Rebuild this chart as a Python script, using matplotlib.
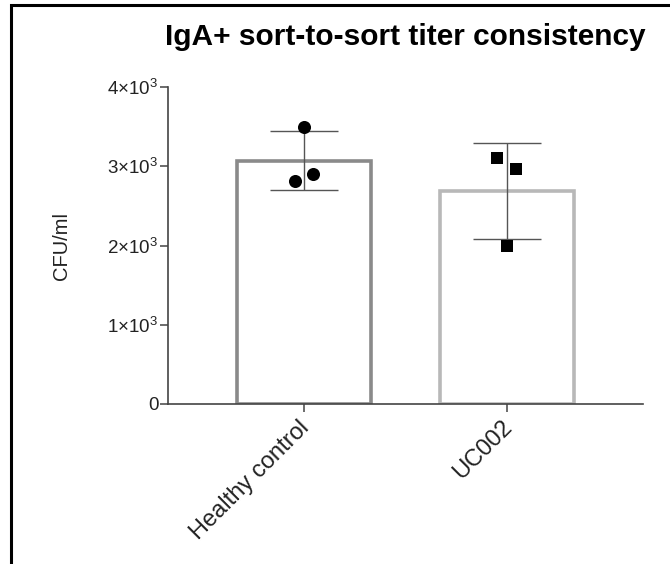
import numpy as np
import matplotlib
matplotlib.use("Agg")
import matplotlib.pyplot as plt
import matplotlib.transforms as mtransforms
from matplotlib.patches import Rectangle
from matplotlib.ticker import FixedLocator, FuncFormatter

plt.rcParams['font.family'] = ['Liberation Sans', 'DejaVu Sans']
plt.rcParams['mathtext.fontset'] = 'custom'
plt.rcParams['mathtext.rm'] = 'Liberation Sans'
plt.rcParams['mathtext.it'] = 'Liberation Sans:italic'
plt.rcParams['mathtext.bf'] = 'Liberation Sans:bold'

# ---------------- data ----------------
groups = ["Healthy control", "UC002"]
means = [3070, 2690]
sds = [375, 603]
hc_points = [3500, 2810, 2900]
hc_jitter = [0.0, -0.045, 0.045]
uc_points = [3110, 2960, 2000]
uc_jitter = [-0.049, 0.044, 0.0]
yticks = [0, 1000, 2000, 3000, 4000]
ytick_labels = ["0", r"$\mathrm{1{\times}10^{3}}$", r"$\mathrm{2{\times}10^{3}}$",
                r"$\mathrm{3{\times}10^{3}}$", r"$\mathrm{4{\times}10^{3}}$"]

edge_cols = ["#8a8a8a", "#b8b8b8"]

# ---------------- figure ----------------
fig = plt.figure(figsize=(6.7, 5.64), dpi=100)
ax = fig.add_axes([168 / 670, 1 - 404 / 564, (643 - 168) / 670, (404 - 87) / 564])

x = np.arange(len(groups))
ax.bar(x, means, width=0.665, facecolor="white", edgecolor=edge_cols,
       linewidth=2.6, zorder=1)
ax.errorbar(x, means, yerr=sds, fmt="none", ecolor="#555555",
            elinewidth=1.0, capsize=24.5, capthick=1.0, zorder=2)

ax.scatter(x[0] + np.array(hc_jitter), hc_points, marker="o", s=9.4 ** 2,
           color="black", zorder=3, linewidths=0)
ax.scatter(x[1] + np.array(uc_jitter), uc_points, marker="s", s=8.6 ** 2,
           color="black", zorder=3, linewidths=0)

ax.set_xlim(-0.67, 1.67)
ax.set_ylim(0, 4000)

ax.yaxis.set_major_locator(FixedLocator(yticks))
ax.yaxis.set_major_formatter(FuncFormatter(lambda v, p: ytick_labels[yticks.index(int(round(v)))]))
ax.set_xticks(x)
ax.set_xticklabels(groups, rotation=45, ha="right", rotation_mode="anchor",
                   fontsize=17, color="#222222")

for s in ["top", "right"]:
    ax.spines[s].set_visible(False)
for s in ["left", "bottom"]:
    ax.spines[s].set_color("#444444")
    ax.spines[s].set_linewidth(1.2)

ax.tick_params(axis="y", length=6, width=1.1, color="#444444", pad=1,
               labelsize=13.5, labelcolor="#222222")
ax.tick_params(axis="x", length=6, width=1.1, color="#444444", pad=3)

# nudge category labels a little left, as in the original
fig.canvas.draw()
shift = mtransforms.ScaledTranslation(-6 / 100, 0, fig.dpi_scale_trans)
for t in ax.xaxis.get_major_ticks():
    t.label1.set_transform(t.label1.get_transform() + shift)

# title and y label
fig.text(405 / 670, 1 - 45 / 564, "IgA+ sort-to-sort titer consistency",
         ha="center", va="baseline", fontsize=21.5, fontweight="bold")
fig.text(61 / 670, 1 - 246 / 564, "CFU/ml", rotation=90, ha="center",
         va="center", fontsize=14.5, color="#222222")

# frame round the panel (cropped on right and bottom)
fig.patches.append(Rectangle((10.5 / 670, -0.2), 1.5, 1.2 - 5 / 564,
                             transform=fig.transFigure, fill=False,
                             edgecolor="black", linewidth=2.2))

fig.savefig("out.png", dpi=100)
